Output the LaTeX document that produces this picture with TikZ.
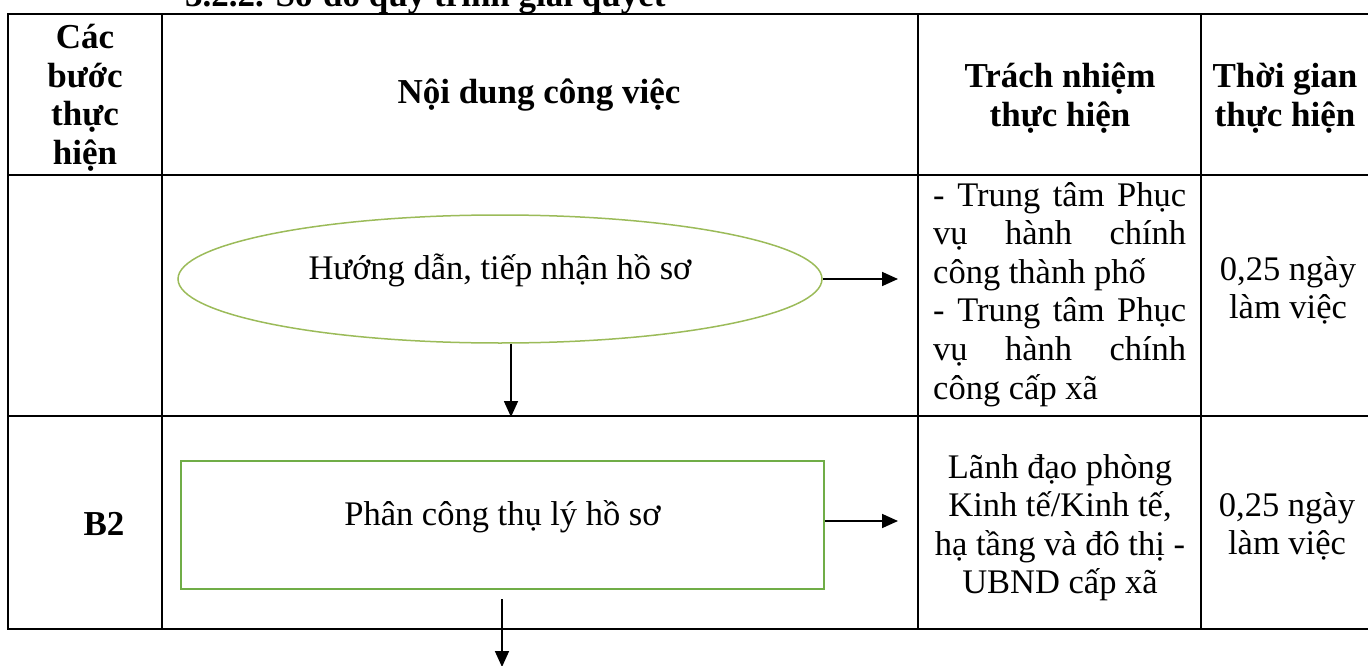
\documentclass[tikz,border=0pt]{standalone}
\usepackage{fontspec}
\setmainfont{Liberation Serif}
\usetikzlibrary{arrows.meta,shapes.geometric}
\definecolor{ellipsegreen}{RGB}{155,187,89}
\definecolor{boxgreen}{RGB}{112,173,71}
\tikzset{
  grid/.style={line width=2pt, draw=black},
  txt/.style={inner sep=0pt, anchor=base, font=\fontsize{34.5}{38.5}\selectfont},
  hdr/.style={inner sep=0pt, anchor=base, font=\fontsize{35}{38.5}\selectfont\bfseries},
  flow/.style={line width=1.7pt, -{Triangle[length=16pt,width=14pt]}},
  startshape/.style={ellipse, draw=ellipsegreen, line width=1.5pt, minimum width=644pt,
    minimum height=128pt, inner sep=0pt, text height=0pt, text depth=0pt,
    font=\fontsize{34.5}{38}\selectfont},
  procbox/.style={rectangle, draw=boxgreen, line width=2.5pt, minimum width=643pt,
    minimum height=128pt, inner sep=0pt, text height=0pt, text depth=0pt,
    font=\fontsize{34.5}{38}\selectfont}
}
\begin{document}
\begin{tikzpicture}[x=1pt,y=-1pt]
\useasboundingbox (0,0) rectangle (1368,666);
% title (partly cut off at the top, as in the reference)
\node[hdr, anchor=base west] (title) at (185,7) {3.2.2. Sơ đồ quy trình giải quyết};
% table grid
\draw[grid] (8,14) rectangle (1374,629);
\draw[grid] (8,175) -- (1374,175);
\draw[grid] (8,416) -- (1374,416);
\draw[grid] (162,14) -- (162,629);
\draw[grid] (918,14) -- (918,629);
\draw[grid] (1201,14) -- (1201,629);
% header
\node[hdr] (hstep) at (85,49) {\parbox[t]{150pt}{\centering Các\\bước\\thực\\hiện}};
\node[hdr] (hcontent) at (539,104) {Nội dung công việc};
\node[hdr] (hresp) at (1060,88) {\parbox[t]{270pt}{\centering Trách nhiệm\\thực hiện}};
\node[hdr] (htime) at (1285,88) {\parbox[t]{165pt}{\centering Thời gian\\thực hiện}};
% row 1
\node[startshape] (e) at (500,279) {Hướng dẫn, tiếp nhận hồ sơ};
\node[txt, anchor=base west] (r1resp) at (933,206) {\fontsize{34.5}{38.6}\selectfont\parbox[t]{253pt}{%
  \makebox[253pt][s]{- Trung tâm Phục}\\
  \makebox[253pt][s]{vụ hành chính}\\
  công thành phố\\
  \makebox[253pt][s]{- Trung tâm Phục}\\
  \makebox[253pt][s]{vụ hành chính}\\
  công cấp xã}};
\node[txt] (r1time) at (1288,280) {\parbox[t]{160pt}{\centering 0,25 ngày\\làm việc}};
% row 2
\node[hdr] (b2) at (104,535) {B2};
\node[procbox] (r) at (502.5,525) {Phân công thụ lý hồ sơ};
\node[txt] (r2resp) at (1060,478) {\fontsize{34.5}{38.5}\selectfont\parbox[t]{270pt}{\centering Lãnh đạo phòng\\Kinh tế/Kinh tế,\\hạ tầng và đô thị -\\UBND cấp xã}};
\node[txt] (r2time) at (1287,516) {\parbox[t]{160pt}{\centering 0,25 ngày\\làm việc}};
% connectors
\coordinate (e2r) at (898,279);
\coordinate (down1) at (511,417);
\coordinate (r2r) at (898,521);
\coordinate (d2s) at (502,599);
\coordinate (d2e) at (502,667);
\draw[flow] (e.east) -- (e2r);
\draw[flow] (e.south -| down1) -- (down1);
\draw[flow] (r.east |- r2r) -- (r2r);
\draw[flow] (d2s) -- (d2e);
\end{tikzpicture}
\end{document}
